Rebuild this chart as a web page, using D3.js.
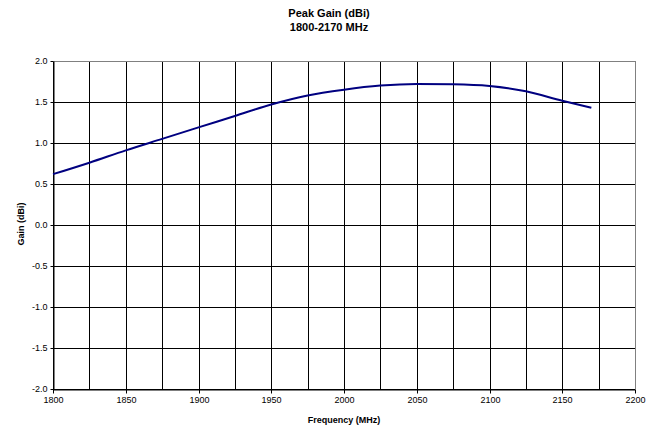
<!DOCTYPE html>
<html>
<head>
<meta charset="utf-8">
<script src="https://cdn.jsdelivr.net/npm/d3@7"></script>
<style>
  body { margin: 0; background: #fff; }
  text { font-family: "Liberation Sans", Arial, sans-serif; }
</style>
</head>
<body>
<svg id="root"></svg>
<script>
// data
const freq = [1800, 1825, 1850, 1875, 1900, 1925, 1950, 1975, 2000, 2025, 2050, 2075, 2100, 2125, 2150, 2170];
const gain = [0.62, 0.76, 0.91, 1.05, 1.19, 1.33, 1.47, 1.58, 1.65, 1.70, 1.72, 1.716, 1.695, 1.63, 1.515, 1.43];
const xTicks = [1800, 1850, 1900, 1950, 2000, 2050, 2100, 2150, 2200];
const yTicks = [-2.0, -1.5, -1.0, -0.5, 0.0, 0.5, 1.0, 1.5, 2.0];
const xGrid = d3.range(1800, 2201, 25);

const W = 658, H = 430;
const margin = { top: 61, right: 23, bottom: 41, left: 53 },
  width = W - margin.left - margin.right,
  height = H - margin.top - margin.bottom;

const root = d3.select("#root").attr("width", W).attr("height", H);

// titles
root.append("text")
  .attr("x", W / 2).attr("y", 16.5)
  .attr("text-anchor", "middle")
  .attr("font-size", 11).attr("font-weight", "bold")
  .text("Peak Gain (dBi)");
root.append("text")
  .attr("x", W / 2).attr("y", 30.5)
  .attr("text-anchor", "middle")
  .attr("font-size", 11).attr("font-weight", "bold")
  .text("1800-2170 MHz");

const svg = root.append("g")
  .attr("transform", "translate(" + margin.left + "," + margin.top + ")");

var xScale = d3.scaleLinear([1800, 2200], [0, width]);
var yScale = d3.scaleLinear([-2, 2], [height, 0]);

// grid
svg.append("g")
  .selectAll("line")
  .data(xGrid)
  .join("line")
  .attr("x1", d => Math.round(xScale(d)) + 0.5)
  .attr("x2", d => Math.round(xScale(d)) + 0.5)
  .attr("y1", 0).attr("y2", height)
  .attr("stroke", d => d == 2200 ? "#808080" : "#000")
  .attr("stroke-width", 1);
svg.append("g")
  .selectAll("line")
  .data(yTicks)
  .join("line")
  .attr("x1", 0).attr("x2", width)
  .attr("y1", d => Math.round(yScale(d)) + 0.5)
  .attr("y2", d => Math.round(yScale(d)) + 0.5)
  .attr("stroke", d => d == 2 ? "#808080" : "#000")
  .attr("stroke-width", 1);

// Add Axes
var xAxis = d3.axisBottom(xScale).tickValues(xTicks).tickSize(4).tickSizeOuter(0).tickPadding(3)
  .tickFormat(d3.format("d"));
var yAxis = d3.axisLeft(yScale).tickValues(yTicks).tickSize(3).tickSizeOuter(0).tickPadding(3)
  .tickFormat(d => d.toFixed(1));

const gx = svg.append("g")
  .attr("transform", `translate(0,${Math.round(height) + 0.5})`)
  .call(xAxis);
const gy = svg.append("g")
  .attr("transform", "translate(0.5,0)")
  .call(yAxis);

[gx, gy].forEach(g => {
  g.selectAll("text").attr("font-size", 9).attr("fill", "#000")
    .style("font-family", '"Liberation Sans", Arial, sans-serif');
  g.selectAll("line").attr("stroke", "#000");
  g.select(".domain").attr("stroke", "#000");
});
gy.selectAll(".tick").attr("transform", d => `translate(0,${Math.round(yScale(d)) + 0.5})`);
gx.selectAll(".tick").attr("transform", d => `translate(${Math.round(xScale(d)) + 0.5},0)`);

// Axes label
svg.append("text")
  .attr("text-anchor", "middle")
  .attr("x", width / 2)
  .attr("y", height + 33.5)
  .attr("font-size", 9).attr("font-weight", "bold")
  .text("Frequency (MHz)");

svg.append("text")
  .attr("text-anchor", "middle")
  .attr("y", -29)
  .attr("x", -height / 2 + 1)
  .attr("transform", "rotate(-90)")
  .attr("font-size", 9).attr("font-weight", "bold")
  .text("Gain (dBi)");

// gain curve
var line = d3.line()
  .x((d, i) => xScale(freq[i]))
  .y(d => yScale(d))
  .curve(d3.curveMonotoneX);
svg.append("path")
  .datum(gain)
  .attr("fill", "none")
  .attr("stroke", "#000080")
  .attr("stroke-width", 2)
  .attr("d", line);
</script>
</body>
</html>
